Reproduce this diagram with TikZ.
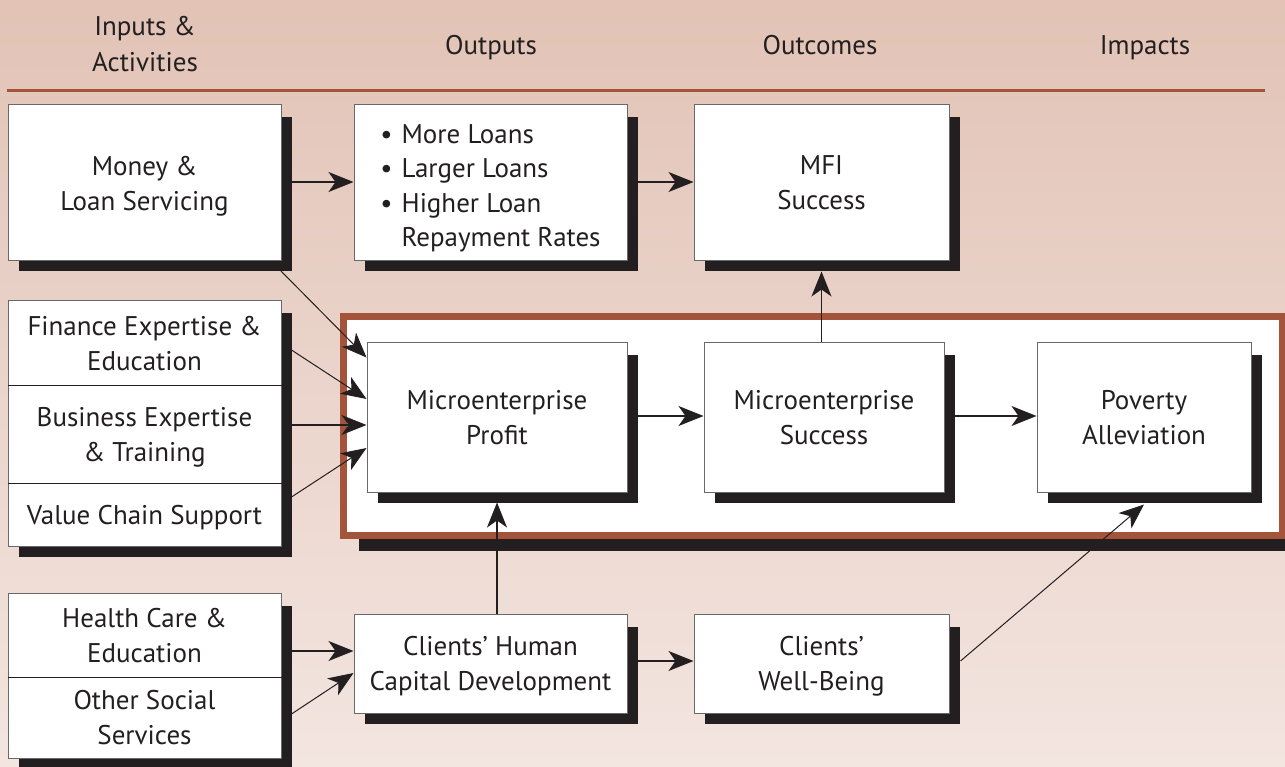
\documentclass[tikz,border=0pt]{standalone}
\usepackage{fontspec}
\setmainfont{PT Sans}
\usetikzlibrary{arrows.meta,calc}
\definecolor{bgtop}{RGB}{226,195,182}
\definecolor{bgbot}{RGB}{243,229,224}
\definecolor{brownc}{RGB}{163,84,58}
\definecolor{darkc}{RGB}{35,31,32}
\definecolor{edgec}{RGB}{105,105,105}
\pgfdeclarelayer{bg}
\pgfdeclarelayer{shad}
\pgfsetlayers{bg,shad,main}
\tikzset{
  box/.style={rectangle, draw=edgec, line width=1pt, fill=white, inner sep=2pt, align=center, text=darkc, text depth=0pt, font=\fontsize{27}{35}\selectfont},
  head/.style={inner sep=0pt, align=center, text=darkc, font=\fontsize{27}{36}\selectfont},
  arr/.style={draw=darkc, line width=1.5pt, -{Stealth[length=25pt,width=20pt,inset=7pt]}},
  darr/.style={draw=darkc, line width=1pt, -{Stealth[length=25pt,width=20pt,inset=7pt]}},
  divider/.style={draw=darkc, line width=1.6pt}
}
\newcommand\boxshade[2]{\fill[darkc] ($(#1.north east)+(-1,13)$) rectangle ($(#2.south east)+(10,10)$);
  \fill[darkc] ($(#2.south west)+(11,-1)$) rectangle ($(#2.south east)+(10,10)$);}
\begin{document}
\begin{tikzpicture}[x=1pt,y=-1pt]
\useasboundingbox (0,0) rectangle (1285,767);
\clip (0,0) rectangle (1285,767);
\begin{pgfonlayer}{bg}
\shade[top color=bgtop, bottom color=bgbot] (0,0) rectangle (1285,767);
\draw[brownc, line width=3pt] (7,91) -- (1265,91);
% frame with its shadow
\fill[darkc] (359,330) rectangle (1300,551);
\draw[brownc, line width=7.5pt, fill=white] (343.5,316.5) rectangle (1282.5,535.5);
\end{pgfonlayer}

% headers
\node[head] (hin) at (145,44) {Inputs \&\\Activities};
\node[head, anchor=base] (hout) at (491,55) {Outputs};
\node[head, anchor=base] (hoc) at (820,55) {Outcomes};
\node[head, anchor=base] (him) at (1145,55) {Impacts};

% top row
\node[box, minimum width=273pt, minimum height=156pt] (money) at (144.5,183) {Money \&\\Loan Servicing};
\node[box, minimum width=273pt, minimum height=156pt, font=\fontsize{27}{34.5}\selectfont] (outs) at (490.5,183) {%
  \begin{tabular}[b]{@{}l@{\hspace{9pt}}l@{}}
  \textbullet & More Loans\\
  \textbullet & Larger Loans\\
  \textbullet & Higher Loan\\
   & Repayment Rates
  \end{tabular}};
\node[box, minimum width=255pt, minimum height=156pt] (mfi) at (821.5,183) {MFI\\Success};

% left stacked group
\node[box, minimum width=273pt, minimum height=84pt] (fin) at (144.5,343) {Finance Expertise \&\\Education};
\node[box, minimum width=273pt, minimum height=98pt] (bus) at (144.5,434) {Business Expertise\\\& Training};
\node[box, minimum width=273pt, minimum height=63pt] (val) at (144.5,514.5) {Value Chain Support};
\draw[divider] (fin.south west) -- (fin.south east);
\draw[divider] (bus.south west) -- (bus.south east);

% frame row
\node[box, minimum width=260pt, minimum height=150pt] (profit) at (497,417) {Microenterprise\\Profit};
\node[box, minimum width=240pt, minimum height=150pt] (success) at (824,417) {Microenterprise\\Success};
\node[box, minimum width=214pt, minimum height=150pt] (poverty) at (1144,417) {Poverty\\Alleviation};

% bottom row
\node[box, minimum width=273pt, minimum height=84pt] (health) at (144.5,635) {Health Care \&\\Education};
\node[box, minimum width=273pt, minimum height=81pt] (other) at (144.5,717.5) {Other Social\\Services};
\draw[divider] (health.south west) -- (health.south east);
\node[box, minimum width=273pt, minimum height=99pt] (hcd) at (490.5,663.5) {Clients’ Human\\Capital Development};
\node[box, minimum width=255pt, minimum height=99pt] (wb) at (821.5,663.5) {Clients’\\Well-Being};

% shadows
\begin{pgfonlayer}{shad}
\boxshade{money}{money}
\boxshade{outs}{outs}
\boxshade{mfi}{mfi}
\boxshade{fin}{val}
\boxshade{profit}{profit}
\boxshade{success}{success}
\boxshade{poverty}{poverty}
\boxshade{health}{other}
\boxshade{hcd}{hcd}
\boxshade{wb}{wb}
\end{pgfonlayer}

% connectors
\draw[arr] ($(money.east)+(10,-1)$) -- ($(outs.west)+(0,-1)$);
\draw[arr] ($(outs.east)+(10,-1)$) -- ($(mfi.west)+(0,-1)$);
\draw[darr] ($(money.south east)+(-4,6)$) -- ($(profit.north west)+(0,16)$);
\draw[darr] ($(fin.east)+(10,7)$) -- ($(profit.west)+(0,-18)$);
\draw[arr] ($(bus.east)+(10,-9)$) -- ($(profit.west)+(0,8)$);
\draw[darr] ($(val.east)+(10,-17.5)$) -- ($(profit.west)+(0,31)$);
\draw[arr] ($(profit.east)+(9,-1)$) -- ($(success.west)+(0,-1)$);
\draw[arr] ($(success.east)+(9,-1)$) -- ($(poverty.west)+(0,-1)$);
\draw[arr] (success.north -| mfi.south) -- ($(mfi.south)+(0,10)$);
\draw[arr] (hcd.north -| profit.south) -- ($(profit.south)+(0,10)$);
\draw[arr] ($(health.east)+(10,16)$) -- ($(hcd.west)+(0,-12.5)$);
\draw[darr] ($(other.east)+(10,-3.5)$) -- ($(hcd.west)+(0,9.5)$);
\draw[arr] ($(hcd.east)+(10,-2.5)$) -- ($(wb.west)+(0,-2.5)$);
\draw[darr] ($(wb.east)+(11,-2.5)$) -- ($(poverty.south)+(0,12)$);
\end{tikzpicture}
\end{document}
